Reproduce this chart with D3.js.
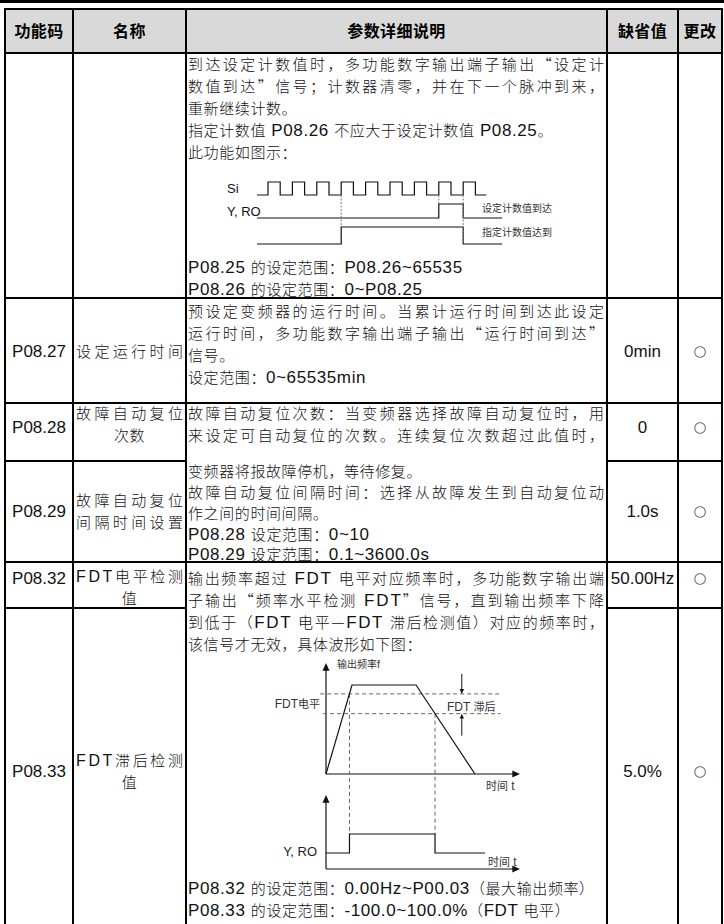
<!DOCTYPE html>
<html><head><meta charset="utf-8">
<script src="https://cdn.jsdelivr.net/npm/d3@7"></script>
<style>body{margin:0;background:#fff}svg{display:block}</style>
</head><body>
<svg id="c" width="724" height="924"></svg>
<script>
// ---------------- DATA ----------------
const headers = ["功能码", "名称", "参数详细说明", "缺省值", "更改"];
const codes = ["", "P08.27", "P08.28", "P08.29", "P08.32", "P08.33"];
const names = [[], ["设定运行时间"], ["故障自动复位", "次数"], ["故障自动复位", "间隔时间设置"], ["FDT电平检测", "值"], ["FDT滞后检测", "值"]];
const defaults = ["", "0min", "0", "1.0s", "50.00Hz", "5.0%"];
const changes = ["", "○", "○", "○", "○", "○"];

const descCount = [
  ["到达设定计数值时，多功能数字输出端子输出“设定计", "数值到达”信号；计数器清零，并在下一个脉冲到来，", "重新继续计数。"],
  ["指定计数值 P08.26 不应大于设定计数值 P08.25。"],
  ["此功能如图示："],
  ["P08.25 的设定范围：P08.26~65535"],
  ["P08.26 的设定范围：0~P08.25"]
];
const descRun = [
  ["预设定变频器的运行时间。当累计运行时间到达此设定", "运行时间，多功能数字输出端子输出“运行时间到达”", "信号。"],
  ["设定范围：0~65535min"]
];
const descReset = [
  ["故障自动复位次数：当变频器选择故障自动复位时，用", "来设定可自动复位的次数。连续复位次数超过此值时，", "变频器将报故障停机，等待修复。"],
  ["故障自动复位间隔时间：选择从故障发生到自动复位动", "作之间的时间间隔。"],
  ["P08.28 设定范围：0~10"],
  ["P08.29 设定范围：0.1~3600.0s"]
];
const descFdt = [
  ["输出频率超过 FDT 电平对应频率时，多功能数字输出端", "子输出“频率水平检测 FDT”信号，直到输出频率下降", "到低于（FDT 电平—FDT 滞后检测值）对应的频率时，", "该信号才无效，具体波形如下图："],
  ["P08.32 的设定范围：0.00Hz~P00.03（最大输出频率）"],
  ["P08.33 的设定范围：-100.0~100.0%（FDT 电平）"]
];

// counter timing diagram (time in pulse periods)
const siRises = [1, 2, 3, 4, 5, 6, 7, 8, 9];
const siPulseWidth = 0.5;
const siSpan = [0.55, 9.95];
const yroWave = [[0.55, 0], [8, 0], [8, 1], [9, 1], [9, 0], [10.6, 0]];
const cntWave = [[0.55, 0], [4, 0], [4, 1], [9, 1], [9, 0], [10.6, 0]];
const countLabels = ["Si", "Y, RO", "设定计数值到达", "指定计数值达到"];

// FDT diagram (time 0-100, frequency % of max)
const freqCurve = [[0, 0], [13.4, 100], [46.4, 100], [76.8, 0]];
const fdtLevel = 90;
const fdtLowLevel = 67.8;
const fdtSignal = [[0, 0], [12.1, 0], [12.1, 1], [56.2, 1], [56.2, 0], [82, 0]];
const fdtLabels = ["输出频率f", "FDT电平", "FDT 滞后", "时间 t", "Y, RO", "时间 t"];

// ---------------- LAYOUT ----------------
const svg = d3.select("#c");
const CJKF = "'Noto Sans CJK SC', sans-serif";
const LATF = "'Liberation Sans', Arial, sans-serif";
const colX = [5, 73, 186, 607, 678, 722];
const rowY = { top: 9, head: 53, r1: 298, r2: 403, r3: 461, r4: 562, r5: 608, bottom: 930 };
const cjkRe = /[\u2014\u2018\u2019\u201c\u201d\u3000-\u303f\u4e00-\u9fff\uff00-\uffef]/;

function runs(str) {
  const out = [];
  for (const ch of str) {
    const c = cjkRe.test(ch);
    if (out.length && out[out.length - 1].c === c) out[out.length - 1].s += ch;
    else out.push({ s: ch, c });
  }
  return out;
}
function textLine(g, str, x, y, o) {
  o = Object.assign({ cjk: 15, lat: 17, ls: 0.6, anchor: "start", fill: "#111", weight: 400, cweight: 300, justify: null, base: 5.5, latFont: LATF }, o || {});
  const t = g.append("text").attr("x", x).attr("y", y + o.base)
    .attr("text-anchor", o.anchor).attr("fill", o.fill).style("white-space", "pre");
  runs(str).forEach(r => {
    t.append("tspan").attr("font-family", r.c ? CJKF : o.latFont)
      .attr("font-size", r.c ? o.cjk : o.lat).attr("font-weight", r.c ? o.cweight : o.weight).text(r.s);
  });
  if (o.justify) t.attr("textLength", o.justify).attr("lengthAdjust", "spacing");
  else t.style("letter-spacing", o.ls + "px");
  return t;
}

// top rule
svg.append("rect").attr("x", 0).attr("y", 0).attr("width", 724).attr("height", 3).attr("fill", "#000");
// header background
svg.append("rect").attr("x", colX[0]).attr("y", rowY.top).attr("width", colX[5] - colX[0])
  .attr("height", rowY.head - rowY.top).attr("fill", "#d9d9d9");

// header text
const gHead = svg.append("g");
headers.forEach((h, i) => {
  textLine(gHead, h, (colX[i] + colX[i + 1]) / 2, 31, { cjk: 16, weight: 700, cweight: 700, anchor: "middle", ls: 0.4, fill: "#000" });
});

// row centers for cols 1,2,4,5
const cellRows = [null, 351, 427, 511, 578, 771];
const nameLines = [null, [351], [413, 435], [500, 522], [576, 598], [760, 782]];
const gCells = svg.append("g");
codes.forEach((c, i) => {
  if (!c) return;
  const cy = cellRows[i];
  textLine(gCells, c, (colX[0] + colX[1]) / 2, cy, { anchor: "middle", lat: 17, ls: 0, base: 6 });
  textLine(gCells, defaults[i], (colX[3] + colX[4]) / 2, cy, { anchor: "middle", lat: 17, ls: 0, base: 6 });
  textLine(gCells, changes[i], (colX[4] + colX[5]) / 2, cy, { anchor: "middle", lat: 15, ls: 0, base: 5, fill: "#555", latFont: "'DejaVu Sans', sans-serif" });
  names[i].forEach((n, k) => {
    const w = colX[2] - colX[1] - 6;
    if (n.length >= 5) textLine(gCells, n, colX[1] + 3, nameLines[i][k], { justify: w, lat: 16 });
    else textLine(gCells, n, (colX[1] + colX[2]) / 2, nameLines[i][k], { anchor: "middle" });
  });
});

// descriptions
const descX = colX[2] + 2, descW = colX[3] - colX[2] - 5;
function drawDesc(paras, ys) {
  const g = svg.append("g");
  let k = 0;
  paras.forEach(p => p.forEach((line, j) => {
    const just = j < p.length - 1 ? descW : null;
    textLine(g, line, descX, ys[k++], { justify: just });
  }));
}
drawDesc(descCount, [64, 86, 108, 130, 152, 267, 289]);
drawDesc(descRun, [311, 333, 355, 377]);
drawDesc(descReset, [413, 435, 471, 492, 513, 534, 554]);
drawDesc(descFdt, [578, 600, 622, 644, 888, 910]);

// ---------------- COUNTER DIAGRAM ----------------
const gC = svg.append("g");
const cx = d3.scaleLinear().domain([0, 10]).range([243.6, 487.6]);
const cRows = [[195, 182], [218, 204], [244, 227]].map(r => d3.scaleLinear().domain([0, 1]).range(r));
const siWave = [[siSpan[0], 0]];
siRises.forEach(r => { siWave.push([r, 0], [r, 1], [r + siPulseWidth, 1], [r + siPulseWidth, 0]); });
siWave.push([siSpan[1], 0]);
[siWave, yroWave, cntWave].forEach((w, i) => {
  const ln = d3.line().x(d => cx(d[0])).y(d => cRows[i](d[1]));
  gC.append("path").attr("d", ln(w)).attr("fill", "none").attr("stroke", "#111").attr("stroke-width", 1.2);
});
// dashed markers
[[4, cRows[0](0), cRows[2](1)], [8, cRows[0](0), cRows[1](1)], [9, cRows[0](0), cRows[2](0)]].forEach(m => {
  gC.append("line").attr("x1", cx(m[0])).attr("x2", cx(m[0])).attr("y1", m[1]).attr("y2", m[2])
    .attr("stroke", "#777").attr("stroke-width", 1).attr("stroke-dasharray", "2,1.5");
});
textLine(gC, countLabels[0], 227, 188, { lat: 13, ls: 0, base: 4.5 });
textLine(gC, countLabels[1], 227, 211, { lat: 13, ls: 0, base: 4.5 });
textLine(gC, countLabels[2], 482, 208, { cjk: 10, cweight: 400, ls: 0, base: 3.7, fill: "#333" });
textLine(gC, countLabels[3], 482, 232, { cjk: 10, cweight: 400, ls: 0, base: 3.7, fill: "#333" });

// ---------------- FDT DIAGRAM ----------------
const gF = svg.append("g");
const fx = d3.scaleLinear().domain([0, 100]).range([326, 520]);
const fy = d3.scaleLinear().domain([0, 100]).range([774, 685]);
const sy = d3.scaleLinear().domain([0, 1]).range([853, 834]);
const axis2Y = 869, axis1Top = 663, axis2Top = 795;
const stroke = "#111";
function arrowHead(g, x, y, dir, size) {
  const s = size || 4, l = (size || 4) * 2.2;
  let pts;
  if (dir === "up") pts = [[x, y], [x - s, y + l], [x + s, y + l]];
  else if (dir === "down") pts = [[x, y], [x - s, y - l], [x + s, y - l]];
  else pts = [[x, y], [x - l, y - s], [x - l, y + s]];
  g.append("path").attr("d", d3.line()(pts) + "Z").attr("fill", stroke);
}
// axes
gF.append("line").attr("x1", fx(0)).attr("x2", fx(0)).attr("y1", fy(0)).attr("y2", axis1Top + 6).attr("stroke", stroke).attr("stroke-width", 1.2);
arrowHead(gF, fx(0), axis1Top, "up", 3.5);
gF.append("line").attr("x1", fx(0)).attr("x2", fx(100) - 6).attr("y1", fy(0)).attr("y2", fy(0)).attr("stroke", stroke).attr("stroke-width", 1.2);
arrowHead(gF, fx(100), fy(0), "right", 3.5);
gF.append("line").attr("x1", fx(0)).attr("x2", fx(0)).attr("y1", axis2Y).attr("y2", axis2Top + 6).attr("stroke", stroke).attr("stroke-width", 1.2);
arrowHead(gF, fx(0), axis2Top, "up", 3.5);
gF.append("line").attr("x1", fx(0)).attr("x2", fx(100) - 6).attr("y1", axis2Y).attr("y2", axis2Y).attr("stroke", stroke).attr("stroke-width", 1.2);
arrowHead(gF, fx(100), axis2Y, "right", 3.5);
// dashed levels
[[fdtLevel, -3], [fdtLowLevel, -1.5]].forEach(l => {
  gF.append("line").attr("x1", fx(l[1])).attr("x2", fx(90)).attr("y1", fy(l[0])).attr("y2", fy(l[0]))
    .attr("stroke", "#666").attr("stroke-width", 1).attr("stroke-dasharray", "4,3");
});
// vertical dashed at crossings
[[fdtSignal[1][0], fdtLevel], [fdtSignal[3][0], fdtLowLevel]].forEach(v => {
  gF.append("line").attr("x1", fx(v[0])).attr("x2", fx(v[0])).attr("y1", fy(v[1])).attr("y2", sy(1))
    .attr("stroke", "#666").attr("stroke-width", 1).attr("stroke-dasharray", "4,3");
});
// frequency curve
gF.append("path").attr("d", d3.line().x(d => fx(d[0])).y(d => fy(d[1]))(freqCurve))
  .attr("fill", "none").attr("stroke", stroke).attr("stroke-width", 1.2);
// output signal
gF.append("path").attr("d", d3.line().x(d => fx(d[0])).y(d => sy(d[1]))(fdtSignal))
  .attr("fill", "none").attr("stroke", stroke).attr("stroke-width", 1.2);
// lag arrows
const ax = fx(70);
gF.append("line").attr("x1", ax).attr("x2", ax).attr("y1", fy(fdtLevel) - 20).attr("y2", fy(fdtLevel) - 4).attr("stroke", stroke).attr("stroke-width", 1);
arrowHead(gF, ax, fy(fdtLevel), "down", 2.2);
gF.append("line").attr("x1", ax).attr("x2", ax).attr("y1", fy(fdtLowLevel) + 22).attr("y2", fy(fdtLowLevel) + 4).attr("stroke", stroke).attr("stroke-width", 1);
arrowHead(gF, ax, fy(fdtLowLevel), "up", 2.2);
// labels
const midY = (fy(fdtLevel) + fy(fdtLowLevel)) / 2;
const lab = { cjk: 11, cweight: 400, lat: 12, ls: 0, base: 4, fill: "#333" };
textLine(gF, fdtLabels[0], fx(0) + 11, axis1Top + 1, Object.assign({}, lab, { cjk: 10, lat: 11, base: 3.7 }));
textLine(gF, fdtLabels[1], fx(0) - 6, midY, Object.assign({}, lab, { anchor: "end" }));
textLine(gF, fdtLabels[2], 447, midY + 3, lab);
textLine(gF, fdtLabels[3], 486, fy(0) + 12, lab);
textLine(gF, fdtLabels[4], fx(0) - 9, sy(0) - 2, { lat: 13, ls: 0, base: 4.5, anchor: "end", fill: "#222" });
textLine(gF, fdtLabels[5], 488, axis2Y - 7, lab);

// ---------------- GRID LINES ----------------
const gL = svg.append("g").attr("stroke", "#000").attr("stroke-width", 2);
function hline(y, x1, x2) { gL.append("line").attr("x1", x1).attr("x2", x2).attr("y1", y).attr("y2", y); }
function vline(x, y1, y2) { gL.append("line").attr("x1", x).attr("x2", x).attr("y1", y1).attr("y2", y2); }
[rowY.top, rowY.head, rowY.r1, rowY.r2, rowY.r4].forEach(y => hline(y, colX[0] - 1, colX[5] + 1));
[rowY.r3, rowY.r5].forEach(y => { hline(y, colX[0], colX[2]); hline(y, colX[3], colX[5]); });
colX.forEach(x => vline(x, rowY.top - 1, rowY.bottom));
</script>
</body></html>
